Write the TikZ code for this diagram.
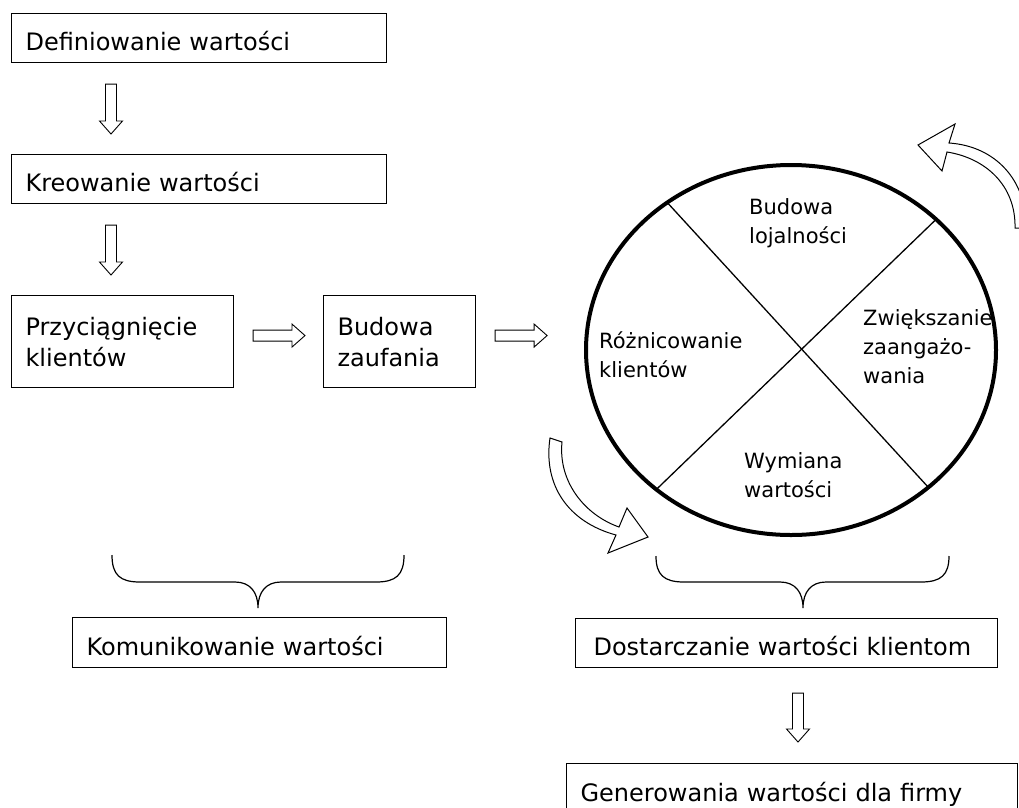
\documentclass[tikz,border=0pt]{standalone}
\usepackage{fontspec}
\setmainfont{DejaVu Sans}
\usetikzlibrary{calc,shapes.geometric}

\begin{document}
\begin{tikzpicture}[x=1pt,y=-1pt,
  box/.style={draw,line width=1.1pt,anchor=north west,inner xsep=14pt,inner ysep=0pt,
    align=left,font=\fontsize{24}{31}\selectfont},
  onebox/.style={box,minimum height=49pt,text height=25pt,text depth=0pt},
  lbl/.style={anchor=base west,inner sep=0pt,text width=150pt,align=left,
    font=\fontsize{21}{29}\selectfont},
  hollow/.style={line width=0.9pt,to path={
    ($(\tikztostart)!5.5pt!90:(\tikztotarget)$)
    -- ($(\tikztotarget)!13pt!(\tikztostart)!5.5pt!-90:(\tikztostart)$)
    -- ($(\tikztotarget)!13pt!(\tikztostart)!11.5pt!-90:(\tikztostart)$)
    -- (\tikztotarget)
    -- ($(\tikztotarget)!13pt!(\tikztostart)!11.5pt!90:(\tikztostart)$)
    -- ($(\tikztotarget)!13pt!(\tikztostart)!5.5pt!90:(\tikztostart)$)
    -- ($(\tikztostart)!5.5pt!-90:(\tikztotarget)$) -- cycle}}]
  \useasboundingbox (0,0) rectangle (1019,807);

  % left column
  \node[onebox,text width=347pt] (defin) at (11,13) {Definiowanie wartości};
  \node[onebox,text width=347pt] (kreow) at (11,154) {Kreowanie wartości};
  \node[box,text width=194pt,minimum height=92pt] (przyc) at (11,295) {Przyciągnięcie\\klientów};
  \node[box,text width=124pt,minimum height=92pt] (zauf) at (323,295) {Budowa\\zaufania};

  % the wheel
  \node[draw,ellipse,line width=4pt,minimum width=410pt,minimum height=370pt,
    inner sep=0pt,outer sep=0pt] (wheel) at (791,350) {};
  \draw[line width=1.3pt] (wheel.130) -- (wheel.-45);
  \draw[line width=1.3pt] (wheel.42) -- (wheel.-134);
  \node[lbl] (lojal) at (749,214) {Budowa\\lojalności};
  \node[lbl] (rozn) at (599,348) {Różnicowanie\\klientów};
  \node[lbl] (zaang) at (863,325) {Zwiększanie\\zaangażo-\\wania};
  \node[lbl] (wymiana) at (744,468) {Wymiana\\wartości};

  % bottom boxes
  \node[onebox,text width=346pt,minimum height=50pt] (komun) at (72,617) {Komunikowanie wartości};
  \node[onebox,inner xsep=18pt,text width=386pt] (dostar) at (575,618) {Dostarczanie wartości klientom};
  \node[onebox,text width=423pt,minimum height=51pt] (gener) at (566,763) {Generowania wartości dla firmy};

  % straight arrows
  \coordinate (a1s) at ($(defin.south west)+(100,21)$);
  \coordinate (a1e) at ($(kreow.north west)+(100,-20)$);
  \coordinate (a2s) at ($(kreow.south west)+(100,21)$);
  \coordinate (a2e) at ($(przyc.north west)+(100,-20)$);
  \coordinate (h1s) at ($(przyc.east)+(19,-6)$);
  \coordinate (h1e) at ($(zauf.west)+(-18,-6)$);
  \coordinate (h2s) at ($(zauf.east)+(19,-6)$);
  \coordinate (h2e) at ($(zauf.east)+(71,-6)$);
  \coordinate (a3s) at ($(dostar.south west)+(223,25)$);
  \coordinate (a3e) at ($(gener.north west)+(232,-21)$);
  \draw[hollow] (a1s) to (a1e);
  \draw[hollow] (a2s) to (a2e);
  \draw[hollow] (h1s) to (h1e);
  \draw[hollow] (h2s) to (h2e);
  \draw[hollow] (a3s) to (a3e);

  % curved arrows
  \draw[line width=1pt] (947,152) .. controls (985,158) and (1016,185) .. (1015,228)
    -- (1026,228) .. controls (1027,180) and (995,146) .. (949,143)
    -- (955,124) -- (918,145) -- (942,171) -- cycle;
  \draw[line width=1pt] (550,438) .. controls (543,485) and (568,522) .. (616,535)
    -- (608,553) -- (648,537) -- (627,508) -- (619,527)
    .. controls (585,515) and (558,482) .. (562,442) -- cycle;

  % braces
  \draw[line width=1.2pt] (112,555) .. controls (112,575) and (120,582) .. (140,582) -- (235,582)
    .. controls (250,582) and (258,592) .. (258,608) .. controls (258,592) and (266,582) .. (281,582)
    -- (376,582) .. controls (396,582) and (404,575) .. (404,555);
  \draw[line width=1.2pt] (656,556) .. controls (656,575) and (664,582) .. (684,582) -- (780,582)
    .. controls (795,582) and (803,592) .. (803,608) .. controls (803,592) and (811,582) .. (826,582)
    -- (921,582) .. controls (941,582) and (949,575) .. (949,556);
\end{tikzpicture}
\end{document}
